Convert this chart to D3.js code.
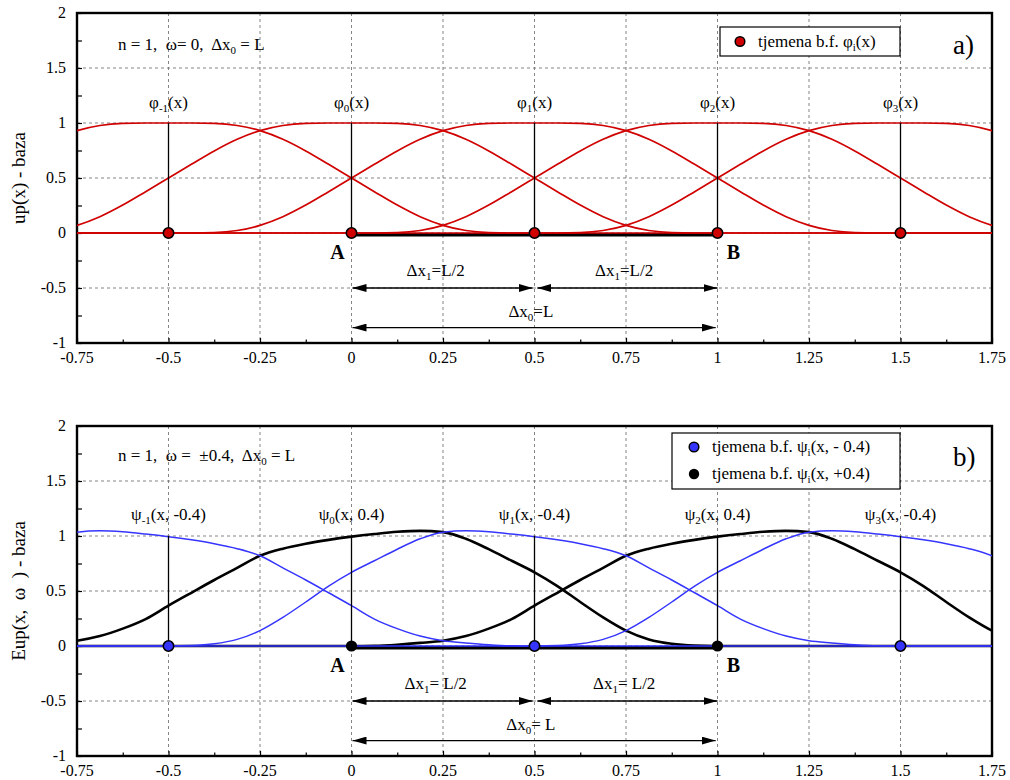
<!DOCTYPE html>
<html><head><meta charset="utf-8">
<script src="https://cdn.jsdelivr.net/npm/d3@7"></script>
<style>
body{margin:0;background:#fff}
svg{display:block}
text{font-family:"Liberation Serif","Times New Roman",serif;fill:#000}
</style>
</head><body>
<svg id="chart" width="1010" height="780" font-family="Liberation Serif"></svg>
<script>
// ---------------- data ----------------
const xTickValues = [-0.75,-0.5,-0.25,0,0.25,0.5,0.75,1,1.25,1.5,1.75];
const xTickLabels = ["-0.75","-0.5","-0.25","0","0.25","0.5","0.75","1","1.25","1.5","1.75"];
const yTickValues = [-1,-0.5,0,0.5,1,1.5,2];
const yTickLabels = ["-1","-0.5","0","0.5","1","1.5","2"];

// offsets from a basis function's centre at which its profile was read
const profileOffsets = [-1,-0.9375,-0.875,-0.8125,-0.75,-0.6875,-0.625,-0.5625,-0.5,-0.4375,-0.375,-0.3125,-0.25,-0.1875,-0.125,-0.0625,
  0,0.0625,0.125,0.1875,0.25,0.3125,0.375,0.4375,0.5,0.5625,0.625,0.6875,0.75,0.8125,0.875,0.9375,1];
// up(x) basis profile (panel a)
const upProfile = [0,0.0001,0.0035,0.0225,0.0694,0.1477,0.2535,0.3751,0.5,0.6249,0.7465,0.8523,0.9306,0.9775,0.9965,0.9999,
  1,0.9999,0.9965,0.9775,0.9306,0.8523,0.7465,0.6249,0.5,0.3751,0.2535,0.1477,0.0694,0.0225,0.0035,0.0001,0];
// Eup(x, +0.4) profile (panel b, black)
const eupPlusProfile = [0,0.002,0.012,0.028,0.048,0.09,0.158,0.245,0.367,0.484,0.6,0.71,0.82,0.885,0.93,0.965,
  0.994,1.018,1.038,1.047,1.035,0.975,0.88,0.775,0.67,0.545,0.4,0.26,0.14,0.06,0.02,0.004,0];
// Eup(x, -0.4) profile (panel b, blue)
const eupMinusProfile = [0,0.004,0.02,0.06,0.14,0.26,0.4,0.545,0.67,0.775,0.88,0.975,1.035,1.047,1.038,1.018,
  0.994,0.965,0.93,0.885,0.82,0.71,0.6,0.484,0.367,0.245,0.158,0.09,0.048,0.028,0.012,0.002,0];

const phiCenters = [-0.5,0,0.5,1,1.5];
const phiSubs = ["-1","0","1","2","3"];
const psiMinusCenters = [-0.5,0.5,1.5];
const psiMinusSubs = ["-1","1","3"];
const psiPlusCenters = [0,1];
const psiPlusSubs = ["0","2"];

// ---------------- layout ----------------
const svg = d3.select("#chart");
const X0 = 77, X1 = 992;
const x = d3.scaleLinear().domain([-0.75,1.75]).range([X0,X1]);
const RED = "#d00000", BLUE = "#3535ff";

const defs = svg.append("defs");
defs.append("marker").attr("id","arr").attr("viewBox","0 0 14 8")
  .attr("markerWidth",14).attr("markerHeight",8).attr("refX",14).attr("refY",4)
  .attr("markerUnits","userSpaceOnUse").attr("orient","auto-start-reverse")
  .append("path").attr("d","M0,0 L14,4 L0,8 Z").attr("fill","#000");

function rich(textSel, parts, subSize){
  let prevSub = false;
  parts.forEach(p=>{
    const t = textSel.append("tspan").text(p.t);
    if(p.sub){ t.attr("font-size", subSize).attr("dy", prevSub?0:4); prevSub = true; }
    else { if(prevSub) t.attr("dy",-4); prevSub = false; }
  });
  return textSel;
}

function curvePoints(center, profile){
  const pts = [];
  if(center - 1 > -0.75) pts.push([-0.75,0]);
  profileOffsets.forEach((d,i)=>pts.push([center+d, profile[i]]));
  if(center + 1 < 1.75) pts.push([1.75,0]);
  return pts;
}

function panel(top, bottom, id){
  const y = d3.scaleLinear().domain([-1,2]).range([bottom,top]);
  const g = svg.append("g");
  defs.append("clipPath").attr("id","clip"+id).append("rect")
    .attr("x",X0).attr("y",top).attr("width",X1-X0).attr("height",bottom-top);
  // grid
  g.append("g").selectAll("line").data(xTickValues.slice(1,-1)).join("line")
    .attr("x1",d=>x(d)).attr("x2",d=>x(d)).attr("y1",top).attr("y2",bottom)
    .attr("stroke","#777").attr("stroke-width",0.9).attr("stroke-dasharray","3,3");
  g.append("g").selectAll("line").data(yTickValues.slice(1,-1)).join("line")
    .attr("x1",X0).attr("x2",X1).attr("y1",d=>y(d)).attr("y2",d=>y(d))
    .attr("stroke","#777").attr("stroke-width",0.9).attr("stroke-dasharray","3,3");
  // axes with inner ticks
  const xAx = d3.axisBottom(x).tickValues(d3.range(-0.75,1.7501,0.125)).tickSize(-5).tickFormat("");
  const ax = g.append("g").attr("transform",`translate(0,${bottom})`).call(xAx);
  ax.selectAll(".tick line").attr("stroke","#000").attr("stroke-width",1.2)
    .attr("y2",(d,i)=> i%2===0 ? -5 : -3.5);
  ax.select(".domain").remove();
  const yAx = d3.axisLeft(y).tickValues(d3.range(-1,2.001,0.25)).tickSize(-5).tickFormat("");
  const ay = g.append("g").attr("transform",`translate(${X0},0)`).call(yAx);
  ay.selectAll(".tick line").attr("stroke","#000").attr("stroke-width",1.2);
  ay.select(".domain").remove();
  // tick labels
  g.append("g").selectAll("text").data(xTickValues).join("text")
    .attr("x",d=>x(d)).attr("y",bottom+20).attr("text-anchor","middle").attr("font-size",16)
    .text((d,i)=>xTickLabels[i]);
  g.append("g").selectAll("text").data(yTickValues).join("text")
    .attr("x",66).attr("y",d=>y(d)+5).attr("text-anchor","end").attr("font-size",16)
    .text((d,i)=>yTickLabels[i]);
  // frame
  g.append("rect").attr("x",X0).attr("y",top).attr("width",X1-X0).attr("height",bottom-top)
    .attr("fill","none").attr("stroke","#000").attr("stroke-width",2.4);
  return {g,y,clip:`url(#clip${id})`};
}

const line = y => d3.line().x(d=>x(d[0])).y(d=>y(d[1])).curve(d3.curveMonotoneX);

function annotations(P, y, dx1parts, dx0parts){
  const g = P.g;
  g.append("text").attr("x",x(0)-14).attr("y",y(0)+26).attr("text-anchor","middle")
    .attr("font-size",20).attr("font-weight","bold").text("A");
  g.append("text").attr("x",x(1)+16).attr("y",y(0)+26).attr("text-anchor","middle")
    .attr("font-size",20).attr("font-weight","bold").text("B");
  const ya = y(-0.5), yb = y(-0.86);
  [[0,0.495],[0.505,1]].forEach(s=>{
    g.append("line").attr("x1",x(s[0])+1).attr("x2",x(s[1])).attr("y1",ya).attr("y2",ya)
      .attr("stroke","#000").attr("stroke-width",1.3)
      .attr("marker-start","url(#arr)").attr("marker-end","url(#arr)");
  });
  g.append("line").attr("x1",x(0)+1).attr("x2",x(0.995)).attr("y1",yb).attr("y2",yb)
    .attr("stroke","#000").attr("stroke-width",1.3)
    .attr("marker-start","url(#arr)").attr("marker-end","url(#arr)");
  [0.23,0.745].forEach(c=>{
    rich(g.append("text").attr("x",x(c)).attr("y",ya-12).attr("text-anchor","middle").attr("font-size",17)
      .attr("xml:space","preserve"), dx1parts, 11);
  });
  rich(g.append("text").attr("x",x(0.49)).attr("y",yb-11).attr("text-anchor","middle").attr("font-size",17)
    .attr("xml:space","preserve"), dx0parts, 11);
}

// ---------------- panel a ----------------
const A = panel(13, 343, "a");
{
  const y = A.y, g = A.g;
  g.append("line").attr("x1",x(0)).attr("x2",x(1)).attr("y1",y(0)+1.8).attr("y2",y(0)+1.8)
    .attr("stroke","#000").attr("stroke-width",3.4);
  const cg = g.append("g").attr("clip-path",A.clip);
  phiCenters.forEach(c=>{
    cg.append("path").datum(curvePoints(c, upProfile)).attr("d",line(y))
      .attr("fill","none").attr("stroke",RED).attr("stroke-width",1.7);
  });
  g.selectAll(".vl").data(phiCenters).join("line")
    .attr("x1",d=>x(d)).attr("x2",d=>x(d)).attr("y1",y(0)).attr("y2",y(1))
    .attr("stroke","#000").attr("stroke-width",1.3);
  g.selectAll(".dot").data(phiCenters).join("circle")
    .attr("cx",d=>x(d)).attr("cy",y(0)).attr("r",5.2)
    .attr("fill",RED).attr("stroke","#000").attr("stroke-width",1.6);
  phiCenters.forEach((c,i)=>{
    rich(g.append("text").attr("x",x(c)).attr("y",108).attr("text-anchor","middle").attr("font-size",17),
      [{t:"φ"},{t:phiSubs[i],sub:true},{t:"(x)"}], 11);
  });
  annotations(A, y, [{t:"Δx"},{t:"1",sub:true},{t:"=L/2"}], [{t:"Δx"},{t:"0",sub:true},{t:"=L"}]);
  rich(g.append("text").attr("x",118).attr("y",50).attr("font-size",17).attr("xml:space","preserve"),
    [{t:"n = 1,  ω= 0,  Δx"},{t:"0",sub:true},{t:" = L"}], 11);
  g.append("text").attr("x",953).attr("y",54).attr("font-size",27).text("a)");
  // legend
  g.append("rect").attr("x",720).attr("y",27).attr("width",180).attr("height",29)
    .attr("fill","#fff").attr("stroke","#000").attr("stroke-width",1.2);
  g.append("circle").attr("cx",740).attr("cy",41.5).attr("r",4.8).attr("fill",RED).attr("stroke","#000").attr("stroke-width",1.5);
  rich(g.append("text").attr("x",758).attr("y",47).attr("font-size",17),
    [{t:"tjemena b.f. φ"},{t:"i",sub:true},{t:"(x)"}], 11);
  g.append("text").attr("transform",`translate(25,${(13+343)/2}) rotate(-90)`).attr("text-anchor","middle")
    .attr("font-size",19).text("up(x) - baza");
}

// ---------------- panel b ----------------
const B = panel(426, 756, "b");
{
  const y = B.y, g = B.g;
  g.append("line").attr("x1",x(0)).attr("x2",x(1)).attr("y1",y(0)+1.8).attr("y2",y(0)+1.8)
    .attr("stroke","#000").attr("stroke-width",3.4);
  const cg = g.append("g").attr("clip-path",B.clip);
  psiPlusCenters.forEach(c=>{
    cg.append("path").datum(curvePoints(c, eupPlusProfile)).attr("d",line(y))
      .attr("fill","none").attr("stroke","#000").attr("stroke-width",2.6);
  });
  psiMinusCenters.forEach(c=>{
    cg.append("path").datum(curvePoints(c, eupMinusProfile)).attr("d",line(y))
      .attr("fill","none").attr("stroke",BLUE).attr("stroke-width",1.5);
  });
  const allC = psiMinusCenters.concat(psiPlusCenters);
  g.selectAll(".vl").data(allC).join("line")
    .attr("x1",d=>x(d)).attr("x2",d=>x(d)).attr("y1",y(0)).attr("y2",y(1))
    .attr("stroke","#000").attr("stroke-width",1.3);
  g.selectAll(".dotm").data(psiMinusCenters).join("circle")
    .attr("cx",d=>x(d)).attr("cy",y(0)).attr("r",5.2)
    .attr("fill",BLUE).attr("stroke","#000").attr("stroke-width",1.6);
  g.selectAll(".dotp").data(psiPlusCenters).join("circle")
    .attr("cx",d=>x(d)).attr("cy",y(0)).attr("r",5.6).attr("fill","#000");
  psiMinusCenters.forEach((c,i)=>{
    rich(g.append("text").attr("x",x(c)).attr("y",520).attr("text-anchor","middle").attr("font-size",17),
      [{t:"ψ"},{t:psiMinusSubs[i],sub:true},{t:"(x, -0.4)"}], 11);
  });
  psiPlusCenters.forEach((c,i)=>{
    rich(g.append("text").attr("x",x(c)).attr("y",520).attr("text-anchor","middle").attr("font-size",17),
      [{t:"ψ"},{t:psiPlusSubs[i],sub:true},{t:"(x, 0.4)"}], 11);
  });
  annotations(B, y, [{t:"Δx"},{t:"1",sub:true},{t:"= L/2"}], [{t:"Δx"},{t:"0",sub:true},{t:"= L"}]);
  rich(g.append("text").attr("x",118).attr("y",461).attr("font-size",17).attr("xml:space","preserve"),
    [{t:"n = 1,  ω =  ±0.4,  Δx"},{t:"0",sub:true},{t:" = L"}], 11);
  g.append("text").attr("x",953).attr("y",466).attr("font-size",27).text("b)");
  g.append("rect").attr("x",672).attr("y",433).attr("width",228).attr("height",56)
    .attr("fill","#fff").attr("stroke","#000").attr("stroke-width",1.2);
  g.append("circle").attr("cx",694).attr("cy",447).attr("r",4.8).attr("fill",BLUE).attr("stroke","#000").attr("stroke-width",1.5);
  rich(g.append("text").attr("x",712).attr("y",452).attr("font-size",17).attr("xml:space","preserve"),
    [{t:"tjemena b.f. ψ"},{t:"i",sub:true},{t:"(x, - 0.4)"}], 11);
  g.append("circle").attr("cx",694).attr("cy",474).attr("r",5.2).attr("fill","#000");
  rich(g.append("text").attr("x",712).attr("y",479).attr("font-size",17),
    [{t:"tjemena b.f. ψ"},{t:"i",sub:true},{t:"(x, +0.4)"}], 11);
  g.append("text").attr("transform",`translate(25,${(426+756)/2}) rotate(-90)`).attr("text-anchor","middle")
    .attr("font-size",19).attr("xml:space","preserve").text("Eup(x,  ω  ) - baza");
}
</script>
</body></html>
